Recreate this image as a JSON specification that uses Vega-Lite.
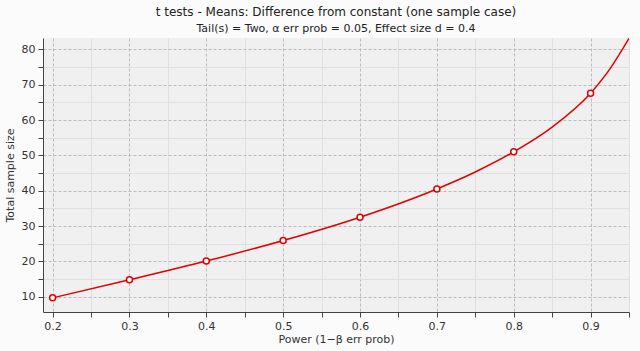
{
  "$schema": "https://vega.github.io/schema/vega-lite/v6.json",
  "width": 586,
  "height": 274,
  "autosize": {"type": "none"},
  "padding": {"left": 43, "top": 38, "right": 11, "bottom": 39},
  "background": "#fbfbfb",
  "config": {
    "font": "DejaVu Sans",
    "view": {"fill": "#f0f0f0", "stroke": null}
  },
  "title": {
    "text": "t tests - Means: Difference from constant (one sample case)",
    "subtitle": "Tail(s) = Two, α err prob = 0.05, Effect size d = 0.4",
    "anchor": "middle",
    "frame": "group",
    "font": "DejaVu Sans",
    "fontSize": 12,
    "fontWeight": "normal",
    "color": "#222",
    "subtitleFont": "DejaVu Sans",
    "subtitleFontSize": 11,
    "subtitleColor": "#222",
    "subtitlePadding": 4,
    "offset": 3
  },
  "data": {
    "values": [
      {"power": 0.2, "n": 9.7, "marker": true},
      {"power": 0.3, "n": 14.8, "marker": true},
      {"power": 0.4, "n": 20.1, "marker": true},
      {"power": 0.5, "n": 25.9, "marker": true},
      {"power": 0.6, "n": 32.5, "marker": true},
      {"power": 0.7, "n": 40.5, "marker": true},
      {"power": 0.75, "n": 45.3, "marker": false},
      {"power": 0.8, "n": 51.0, "marker": true},
      {"power": 0.85, "n": 58.0, "marker": false},
      {"power": 0.9, "n": 67.6, "marker": true},
      {"power": 0.925, "n": 74.4, "marker": false},
      {"power": 0.95, "n": 83.1, "marker": false}
    ]
  },
  "encoding": {
    "x": {
      "field": "power",
      "type": "quantitative",
      "scale": {"domain": [0.1875, 0.95], "nice": false, "zero": false},
      "axis": {
        "title": "Power (1−β err prob)",
        "values": [0.2, 0.25, 0.3, 0.35, 0.4, 0.45, 0.5, 0.55, 0.6, 0.65, 0.7, 0.75, 0.8, 0.85, 0.9, 0.95],
        "labelExpr": "abs(datum.value*10 - round(datum.value*10)) < 0.01 ? format(datum.value, '.1f') : ''",
        "labelFontSize": 11,
        "labelColor": "#333",
        "labelPadding": 3,
        "labelFlush": false,
        "titleFontSize": 11,
        "titleFontWeight": "normal",
        "titleColor": "#333",
        "titlePadding": 2,
        "domainColor": "#444",
        "tickColor": "#444",
        "tickSize": 5,
        "grid": true,
        "gridColor": {"condition": {"test": "abs(datum.value*10 - round(datum.value*10)) < 0.01", "value": "#bbbbbb"}, "value": "#e0e0e0"},
        "gridDash": {"condition": {"test": "abs(datum.value*10 - round(datum.value*10)) < 0.01", "value": [3, 2]}, "value": []},
        "gridWidth": 1
      }
    },
    "y": {
      "field": "n",
      "type": "quantitative",
      "scale": {"domain": [5.7, 83.2], "nice": false, "zero": false},
      "axis": {
        "title": "Total sample size",
        "values": [10, 15, 20, 25, 30, 35, 40, 45, 50, 55, 60, 65, 70, 75, 80],
        "labelExpr": "datum.value % 10 == 0 ? format(datum.value, 'd') : ''",
        "labelFontSize": 11,
        "labelColor": "#333",
        "labelPadding": 3,
        "titleFontSize": 11,
        "titleFontWeight": "normal",
        "titleColor": "#333",
        "titlePadding": 6,
        "domainColor": "#444",
        "tickColor": "#444",
        "tickSize": 5,
        "grid": true,
        "gridColor": {"condition": {"test": "datum.value % 10 == 0", "value": "#bbbbbb"}, "value": "#e0e0e0"},
        "gridDash": {"condition": {"test": "datum.value % 10 == 0", "value": [3, 2]}, "value": []},
        "gridWidth": 1
      }
    }
  },
  "layer": [
    {
      "mark": {"type": "line", "color": "#e00000", "strokeWidth": 1.5, "interpolate": "monotone", "clip": true}
    },
    {
      "transform": [{"filter": "datum.marker"}],
      "mark": {"type": "point", "shape": "circle", "filled": true, "fill": "#ffffff", "stroke": "#e00000", "strokeWidth": 1.5, "size": 36, "opacity": 1}
    }
  ]
}
